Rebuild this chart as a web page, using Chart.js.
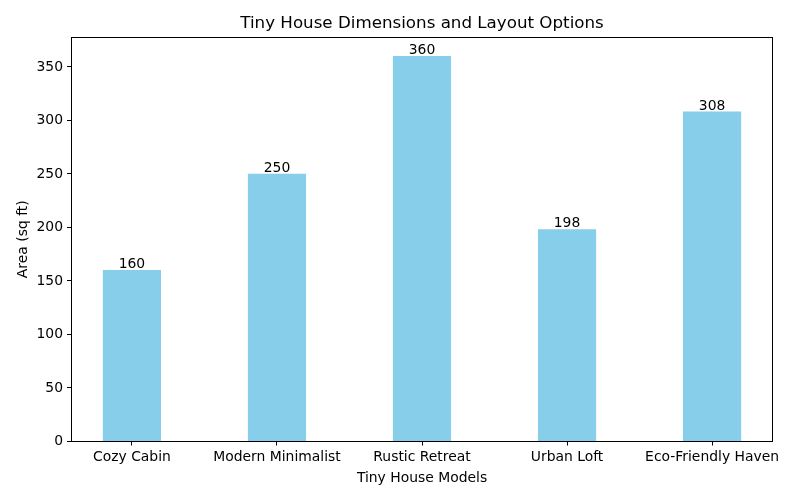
<!DOCTYPE html>
<html>
<head>
<meta charset="utf-8">
<script src="https://cdn.jsdelivr.net/npm/chart.js@4/dist/chart.umd.min.js"></script>
<style>
html,body{margin:0;padding:0;background:#fff;}
#wrap{width:800px;height:500px;position:relative;}
</style>
</head>
<body>
<div id="wrap"><canvas id="c" width="800" height="500"></canvas></div>
<script>
const categories = ["Cozy Cabin", "Modern Minimalist", "Rustic Retreat", "Urban Loft", "Eco-Friendly Haven"];
const areas = [160, 250, 360, 198, 308];
const yTicks = [0, 50, 100, 150, 200, 250, 300, 350];

const FONT = "DejaVu Sans";
const FS = 13.9;

const valueLabels = {
  id: 'valueLabels',
  afterDatasetsDraw(chart) {
    const ctx = chart.ctx;
    const meta = chart.getDatasetMeta(0);
    ctx.save();
    ctx.font = FS + "px '" + FONT + "'";
    ctx.fillStyle = '#000';
    ctx.textAlign = 'center';
    ctx.textBaseline = 'bottom';
    meta.data.forEach((bar, i) => {
      ctx.fillText(String(areas[i]), bar.x, bar.y + 1);
    });
    ctx.restore();
  }
};

const plotTitle = {
  id: 'plotTitle',
  afterDraw(chart) {
    const ctx = chart.ctx;
    const a = chart.chartArea;
    ctx.save();
    ctx.font = "16.7px '" + FONT + "'";
    ctx.fillStyle = '#000';
    ctx.textAlign = 'center';
    ctx.textBaseline = 'alphabetic';
    ctx.fillText("Tiny House Dimensions and Layout Options", (a.left + a.right) / 2, 28);
    ctx.restore();
  }
};

const frame = {
  id: 'frame',
  afterDatasetsDraw(chart) {
    const ctx = chart.ctx;
    const a = chart.chartArea;
    ctx.save();
    ctx.strokeStyle = '#000';
    ctx.lineWidth = 1;
    ctx.strokeRect(Math.round(a.left) + 0.5, Math.round(a.top) + 0.5, Math.round(a.right - a.left) - 1, Math.round(a.bottom - a.top) - 1);
    ctx.restore();
  }
};

new Chart(document.getElementById('c'), {
  type: 'bar',
  data: {
    datasets: [{
      data: areas.map((v, i) => ({x: i, y: v})),
      backgroundColor: '#87CEEB',
      borderWidth: 0,
      barThickness: 57.5
    }]
  },
  options: {
    responsive: false,
    animation: false,
    layout: {padding: {left: 0, right: 27, top: 37, bottom: 0}},
    plugins: {legend: {display: false}, tooltip: {enabled: false}, title: {display: false}},
    scales: {
      x: {
        type: 'linear',
        min: -0.42,
        max: 4.42,
        offset: false,
        afterBuildTicks(scale) { scale.ticks = categories.map((c, i) => ({value: i})); },
        afterFit(scale) { scale.height = 58.5; },
        ticks: {
          callback: (v) => categories[v],
          color: '#000',
          font: {family: FONT, size: FS},
          padding: 4,
          maxRotation: 0,
          autoSkip: false
        },
        grid: {display: true, offset: false, drawOnChartArea: false, drawTicks: true, tickLength: 4, color: '#000', tickColor: '#000'},
        border: {display: false},
        title: {display: true, text: 'Tiny House Models', color: '#000', font: {family: FONT, size: FS}, padding: {top: 0, bottom: 13}}
      },
      y: {
        min: 0,
        max: 378,
        afterBuildTicks(scale) { scale.ticks = yTicks.map(v => ({value: v})); },
        afterFit(scale) { scale.width = 71; },
        ticks: {
          color: '#000',
          font: {family: FONT, size: FS},
          padding: 4
        },
        grid: {display: true, offset: false, drawOnChartArea: false, drawTicks: true, tickLength: 4, color: '#000', tickColor: '#000'},
        border: {display: false},
        title: {display: true, text: 'Area (sq ft)', color: '#000', font: {family: FONT, size: FS}, padding: {top: 15, bottom: 0}}
      }
    }
  },
  plugins: [valueLabels, plotTitle, frame]
});
</script>
</body>
</html>
